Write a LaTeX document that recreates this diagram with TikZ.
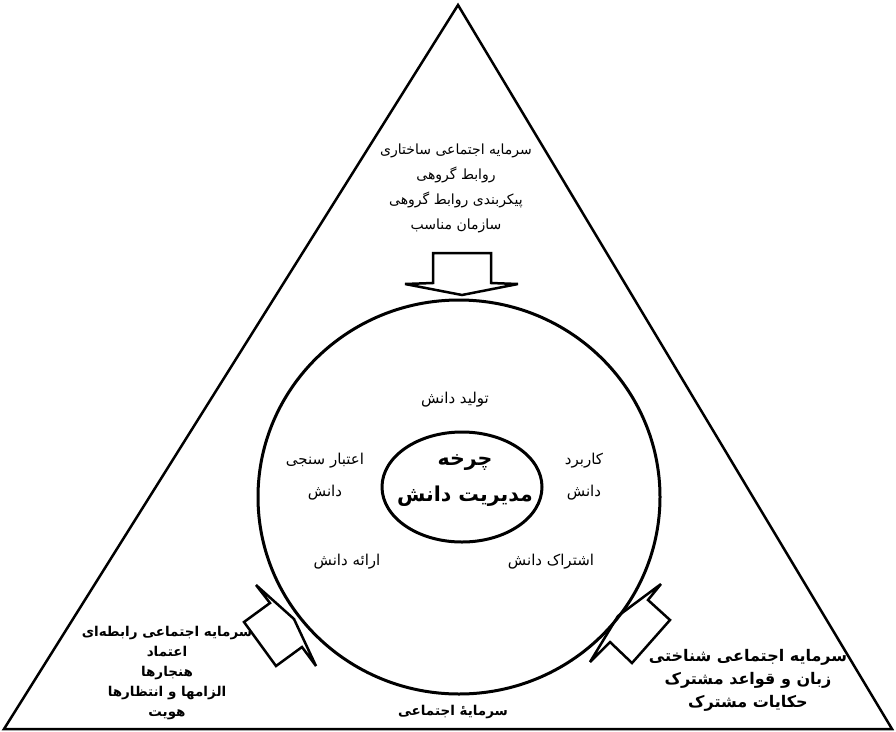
\documentclass[tikz,border=0pt]{standalone}
\usepackage{fontspec}
\newfontfamily\arabicfont[Script=Arabic]{DejaVu Sans}
\TeXXeTstate=1
\usetikzlibrary{shapes.geometric}
\newcommand{\rl}[1]{\beginR #1\endR}
\begin{document}
\begin{tikzpicture}[x=1pt,y=-1pt,
  ar/.style={font=\arabicfont\fontsize{14}{25}\selectfont, align=center, inner sep=0pt},
  arin/.style={font=\arabicfont\fontsize{15}{32}\selectfont, align=center, inner sep=0pt},
  arb/.style={font=\arabicfont\bfseries\fontsize{13.5}{20}\selectfont, align=center, inner sep=0pt},
  arbig/.style={font=\arabicfont\bfseries\fontsize{16}{23}\selectfont, align=center, inner sep=0pt},
  core/.style={font=\arabicfont\bfseries\fontsize{20.5}{36}\selectfont, align=center, inner sep=0pt},
  frame/.style={draw=black, line width=2.5pt, line join=miter},
  ring/.style={draw=black, line width=3pt, ellipse, inner sep=0pt},
  blockarrow/.style={draw=black, fill=white, line width=2.5pt, line join=miter, miter limit=1.6}]
\useasboundingbox (0,0) rectangle (896,731);
\fill[white] (0,0) rectangle (896,731);
% triangle
\coordinate (apex) at (458,5);
\coordinate (bl) at (4,729);
\coordinate (br) at (892,729);
\draw[frame] (apex) -- (br) -- (bl) -- cycle;
% arrows
\draw[blockarrow] (433,253) -- (491,253) -- (491,283) -- (518,284) -- (462,295) -- (405,284) -- (433,283) -- cycle;
\draw[blockarrow] (244,622) -- (270,603) -- (256,585) -- (294,619) -- (316,666) -- (302,647) -- (276,666) -- cycle;
\draw[blockarrow] (670,620) -- (648,600) -- (661,584) -- (618,616) -- (590,662) -- (610,642) -- (632,663) -- cycle;
% circles
\node[ring, minimum width=402pt, minimum height=394pt] (outer) at (459,497) {};
\node[ring, minimum width=160pt, minimum height=110pt] (inner) at (462,487) {};
% texts
\node[ar] (structural) at (456,188) {\rl{سرمایه اجتماعی ساختاری}\\ \rl{روابط گروهی}\\ \rl{پیکربندی روابط گروهی}\\ \rl{سازمان مناسب}};
\node[arin] (produce) at (455,400) {\rl{تولید دانش}};
\node[arin] (validate) at (325,477) {\rl{اعتبار سنجی}\\ \rl{دانش}};
\node[arin] (apply) at (584,477) {\rl{کاربرد}\\ \rl{دانش}};
\node[arin] (present) at (347,562) {\rl{ارائه دانش}};
\node[arin] (share) at (551,562) {\rl{اشتراک دانش}};
\node[core] (cycle) at (465,481) {\rl{چرخه}\\ \rl{مدیریت دانش}};
\node[arb] (relational) at (167,673) {\rl{سرمایه اجتماعی رابطه‌ای}\\ \rl{اعتماد}\\ \rl{هنجارها}\\ \rl{الزامها و انتظارها}\\ \rl{هویت}};
\node[arbig] (cognitive) at (748,680) {\rl{سرمایه اجتماعی شناختی}\\ \rl{زبان و قواعد مشترک}\\ \rl{حکایات مشترک}};
\node[arb] (social) at (453,712) {\rl{سرمایهٔ اجتماعی}};
\end{tikzpicture}
\end{document}
